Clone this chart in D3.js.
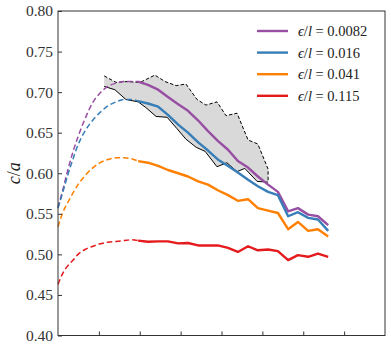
<!DOCTYPE html>
<html>
<head>
<meta charset="utf-8">
<script src="https://cdn.jsdelivr.net/npm/d3@7"></script>
<style>
  body { margin: 0; background: #fff; }
  svg { display: block; }
</style>
</head>
<body>
<svg id="chart" width="391" height="351"></svg>
<script>
// series labels and colours
var labels = ["0.0082", "0.016", "0.041", "0.115"];
var colors = ["#984ea3", "#377eb8", "#ff7f00", "#e41a1c"];

// dashed (extrapolated) part, shared x
var dashX = [0, 0.12, 0.24, 0.37, 0.49, 0.66, 0.86, 1.03, 1.22, 1.42, 1.61, 1.79, 1.96];
var dashPurple = [0.558, 0.580, 0.604, 0.627, 0.645, 0.667, 0.688, 0.699, 0.707, 0.711, 0.713, 0.713, 0.713];
var dashBlue   = [0.557, 0.577, 0.598, 0.618, 0.635, 0.652, 0.666, 0.675, 0.683, 0.688, 0.691, 0.691, 0.689];
var dashOrange = [0.534, 0.552, 0.564, 0.576, 0.586, 0.597, 0.607, 0.613, 0.617, 0.619, 0.619, 0.618, 0.615];
var dashRed    = [0.463, 0.477, 0.486, 0.493, 0.500, 0.506, 0.510, 0.513, 0.515, 0.516, 0.517, 0.518, 0.517];

// measured part, shared x
var solidX = [1.96, 2.20, 2.45, 2.69, 2.94, 3.18, 3.43, 3.67, 3.91, 4.16, 4.40, 4.65, 4.89, 5.14, 5.38, 5.63, 5.87, 6.12, 6.36, 6.61];
var solidPurple = [0.713, 0.709, 0.703, 0.694, 0.685, 0.677, 0.665, 0.652, 0.640, 0.629, 0.615, 0.607, 0.596, 0.586, 0.577, 0.553, 0.557, 0.549, 0.547, 0.536];
var solidBlue   = [0.689, 0.686, 0.682, 0.672, 0.660, 0.650, 0.638, 0.628, 0.617, 0.609, 0.601, 0.592, 0.584, 0.577, 0.573, 0.547, 0.552, 0.545, 0.543, 0.529];
var solidOrange = [0.615, 0.613, 0.609, 0.604, 0.600, 0.596, 0.590, 0.586, 0.579, 0.573, 0.566, 0.568, 0.557, 0.554, 0.551, 0.531, 0.540, 0.529, 0.531, 0.522];
var solidRed    = [0.517, 0.5155, 0.516, 0.516, 0.5135, 0.514, 0.511, 0.511, 0.511, 0.508, 0.503, 0.510, 0.505, 0.506, 0.504, 0.493, 0.499, 0.497, 0.501, 0.497];

// shaded band: upper (dashed black) and lower (solid black) bounds
var upperX = [1.13, 1.42, 1.69, 2.01, 2.37, 2.62, 2.89, 3.13, 3.40, 3.62, 3.89, 4.11, 4.38, 4.65, 4.89, 5.14, 5.14];
var upperY = [0.720, 0.712, 0.713, 0.712, 0.721, 0.713, 0.708, 0.710, 0.691, 0.684, 0.688, 0.671, 0.674, 0.641, 0.636, 0.605, 0.589];
var lowerX = [1.13, 1.39, 1.66, 1.96, 2.15, 2.40, 2.67, 2.91, 3.13, 3.38, 3.60, 3.89, 4.13, 4.38, 4.57, 4.87, 5.14];
var lowerY = [0.707, 0.703, 0.691, 0.688, 0.681, 0.670, 0.669, 0.655, 0.642, 0.632, 0.627, 0.608, 0.613, 0.602, 0.606, 0.590, 0.589];

var xTicks = [1, 2, 3, 4, 5, 6, 7];
var yTicks = [0.40, 0.45, 0.50, 0.55, 0.60, 0.65, 0.70, 0.75, 0.80];

var dashSeries = [dashPurple, dashBlue, dashOrange, dashRed];
var solidSeries = [solidPurple, solidBlue, solidOrange, solidRed];

(function () {
var svg = d3.select("#chart"),
    x0 = 58, y0 = 11, x1 = 385, y1 = 335.5,
    fontFam = "'Liberation Serif', 'DejaVu Serif', serif";

var x = d3.scaleLinear().domain([0, 8]).range([x0, x1]),
    y = d3.scaleLinear().domain([0.40, 0.80]).range([y1, y0]);

function pts(xs, ys) {
    return xs.map(function (v, i) { return [v, ys[i]]; });
}

var line = d3.line().x(function (d) { return x(d[0]); }).y(function (d) { return y(d[1]); });
var smooth = d3.line().curve(d3.curveMonotoneX).x(function (d) { return x(d[0]); }).y(function (d) { return y(d[1]); });

// shaded band
var band = pts(upperX, upperY).concat(pts(lowerX, lowerY).reverse());
svg.append("path").attr("d", line(band) + "Z").attr("fill", "#d9d9d9").attr("stroke", "none");
svg.append("path").attr("d", line(pts(lowerX, lowerY))).attr("fill", "none")
    .attr("stroke", "#000").attr("stroke-width", 1);
svg.append("path").attr("d", line(pts(upperX, upperY))).attr("fill", "none")
    .attr("stroke", "#000").attr("stroke-width", 1).attr("stroke-dasharray", "3.5,2");

// series
dashSeries.forEach(function (s, i) {
    svg.append("path").attr("d", smooth(pts(dashX, s))).attr("fill", "none")
        .attr("stroke", colors[i]).attr("stroke-width", 1.5).attr("stroke-dasharray", "5.5,3");
});
solidSeries.forEach(function (s, i) {
    svg.append("path").attr("d", line(pts(solidX, s))).attr("fill", "none")
        .attr("stroke", colors[i]).attr("stroke-width", 2.4).attr("stroke-linejoin", "round");
});

// axes, ticks pointing inwards
var yAxis = svg.append("g").attr("transform", "translate(" + x0 + ",0)")
    .call(d3.axisLeft(y).tickValues(yTicks).tickSize(-4).tickPadding(5).tickFormat(d3.format(".2f")));
var xAxis = svg.append("g").attr("transform", "translate(0," + y1 + ")")
    .call(d3.axisBottom(x).tickValues(xTicks).tickSize(-4).tickFormat(""));
[yAxis, xAxis].forEach(function (a) {
    a.select(".domain").remove();
    a.selectAll(".tick line").attr("stroke", "#333");
});
yAxis.selectAll("text").attr("font-family", fontFam).attr("font-size", 15.5).attr("fill", "#333");

svg.append("rect").attr("x", x0).attr("y", y0).attr("width", x1 - x0).attr("height", y1 - y0)
    .attr("fill", "none").attr("stroke", "#333").attr("stroke-width", 1);

// y label
var yl = svg.append("text").attr("transform", "translate(20," + (y0 + y1) / 2 + ") rotate(-90)")
    .attr("text-anchor", "middle").attr("font-family", fontFam).attr("font-size", 18).attr("fill", "#222");
yl.append("tspan").attr("font-style", "italic").text("c");
yl.append("tspan").text("/");
yl.append("tspan").attr("font-style", "italic").text("a");

// legend
var lg = svg.append("g").attr("transform", "translate(257,31)");
labels.forEach(function (lab, i) {
    var row = lg.append("g").attr("transform", "translate(0," + i * 21.6 + ")");
    row.append("line").attr("x1", 0).attr("x2", 31).attr("stroke", colors[i]).attr("stroke-width", 2.4);
    var t = row.append("text").attr("x", 41).attr("dy", "0.35em")
        .attr("font-family", fontFam).attr("font-size", 14.5).attr("fill", "#222");
    t.append("tspan").attr("font-style", "italic").text("\u03f5");
    t.append("tspan").text("/");
    t.append("tspan").attr("font-style", "italic").text("l");
    t.append("tspan").text(" = " + lab);
});
})();
</script>
</body>
</html>
